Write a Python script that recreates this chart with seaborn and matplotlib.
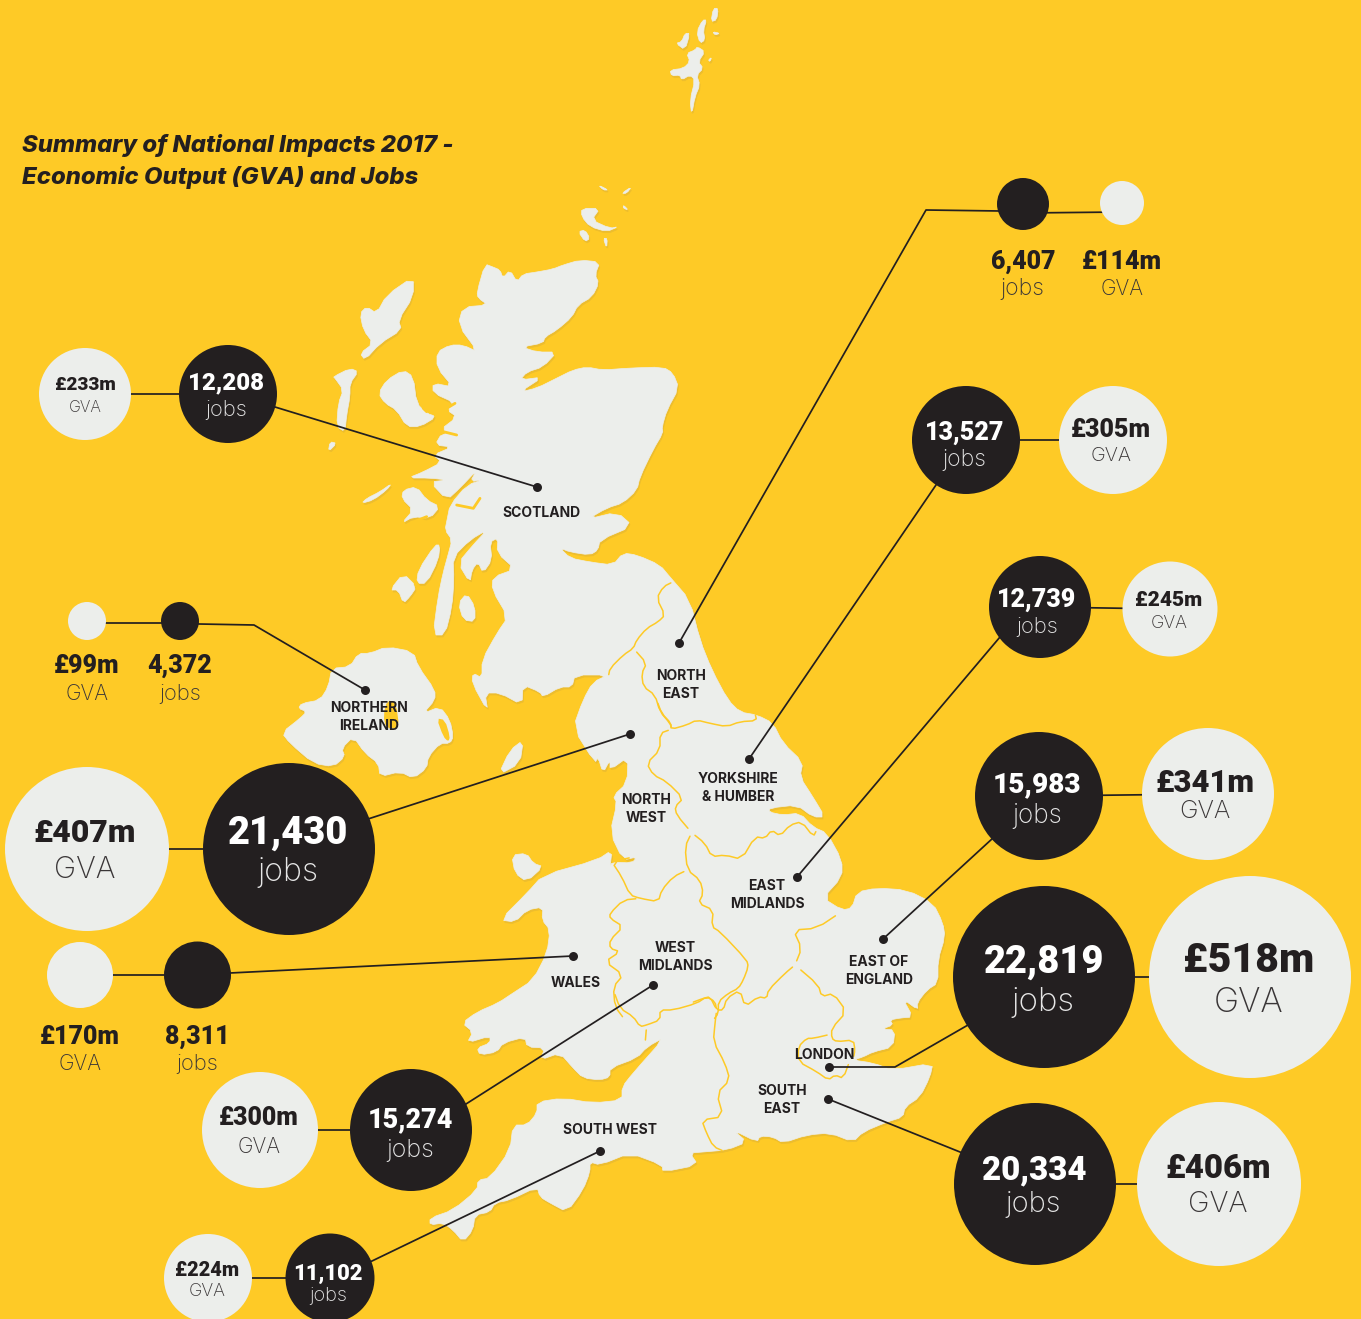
import matplotlib.pyplot as plt
import pandas as pd
import seaborn as sns

sns.set_style("white")
plt.rcParams['font.family'] = ['Inter', 'DejaVu Sans']

YELLOW = '#FECA26'
SHADOW = '#EDBD2E'
LAND = '#ECEEEB'
DARK = '#231F20'

# values
regions = ['Scotland', 'North East', 'Yorkshire & Humber', 'East Midlands', 'East of England',
           'London', 'South East', 'South West', 'West Midlands', 'Wales', 'North West',
           'Northern Ireland']
jobs = [12208, 6407, 13527, 12739, 15983, 22819, 20334, 11102, 15274, 8311, 21430, 4372]
gva = [233, 114, 305, 245, 341, 518, 406, 224, 300, 170, 407, 99]

region_labels = ['SCOTLAND', 'NORTH\nEAST', 'YORKSHIRE\n& HUMBER', 'EAST\nMIDLANDS', 'EAST OF\nENGLAND',
                 'LONDON', 'SOUTH\nEAST', 'SOUTH WEST', 'WEST\nMIDLANDS', 'WALES', 'NORTH\nWEST',
                 'NORTHERN\nIRELAND']

# layout, in pixels of the picture
job_xy = [(228, 394), (1023, 204), (966, 440), (1040, 607), (1039, 796), (1044, 977),
          (1035, 1184), (330, 1278), (411, 1130), (197.5, 975), (289, 849), (180, 621)]
gva_xy = [(85, 394), (1122, 203), (1113, 440), (1170, 609), (1208, 794), (1250, 977),
          (1219, 1184), (208, 1278), (260, 1130), (80, 975), (87, 849), (87, 621)]
job_r = [49, 26, 54, 51, 64, 91, 81, 44.5, 61, 33.5, 86, 19]
gva_r = [46, 22, 54, 47.5, 66, 101, 82, 44, 58, 33, 82, 19]
link_shift = [0, 9, 0, 0, 0, 0, 0, 0, 0, 0, 0, 2]
dot_xy = [(537, 487), (679, 643), (749, 759), (797, 877), (883, 939), (829, 1067),
          (828, 1099), (600, 1151), (653, 985), (573, 956), (630, 734), (365, 690)]
# extra bends of the leader lines between the dot and the jobs bubble
leader_via = [[(275, 407)], [(926, 210), (1000, 211)], [(936, 485)], [(1000, 637)], [(993, 838)],
              [(895, 1067), (968, 1025)], [(960, 1152)], [(372, 1261)], [(466, 1104)], [(230, 973)],
              [(368, 819)], [(254, 625), (199, 624)]]
label_xy = [(541, 513), (681, 685), (738, 788), (767, 895), (879, 971), (824, 1055),
            (782, 1100), (610, 1130), (675, 957), (576, 983), (646, 809), (369, 717)]
# (x, y, font px) of number and unit
job_num = [(226, 383, 24), (1023, 262, 25), (965, 433, 25), (1037, 600, 25), (1037, 785, 28), (1044, 962, 38),
           (1034, 1170, 33), (328, 1274, 22), (410, 1120, 27), (197, 1037, 25), (288, 833, 38), (180, 666, 25)]
job_unit = [(226, 410, 22), (1022, 289, 23), (964, 460, 23), (1037, 627, 22), (1037, 816, 26), (1043, 1003, 33),
            (1033, 1204, 29), (328, 1296, 20), (410, 1151, 25), (197, 1064, 22), (288, 872, 32), (180, 694, 22)]
gva_num = [(85, 385, 19), (1122, 262, 25), (1111, 430, 25), (1169, 601, 21), (1205, 783, 31), (1249, 960, 41),
           (1218, 1169, 33), (207, 1270, 20), (259, 1118, 25), (80, 1037, 25), (85, 833, 32), (87, 666, 25)]
gva_unit = [(85, 408, 16), (1122, 289, 21), (1111, 456, 20), (1169, 624, 18), (1205, 812, 25), (1249, 1003, 34),
            (1218, 1204, 29), (207, 1292, 18), (259, 1147, 21), (80, 1064, 21), (85, 870, 30), (87, 694, 21)]
outside = ['North East', 'Wales', 'Northern Ireland']

# coastline of Great Britain
mainland = [
    (485, 264), (493, 267), (500, 270), (503, 278), (510, 270), (517, 282), (523, 274), (537, 272), (553, 269),
    (563, 265), (580, 260), (600, 262), (595, 275), (599, 283), (592, 297), (578, 305), (572, 317), (557, 330),
    (545, 337), (543, 343), (522, 347), (537, 352), (557, 352), (543, 367), (527, 372), (520, 380), (543, 377),
    (520, 392), (537, 388), (557, 378), (573, 370), (587, 367), (603, 370), (630, 368), (663, 367), (673, 373),
    (679, 388), (667, 410), (662, 427), (663, 433), (653, 450), (640, 477), (637, 490), (623, 503), (607, 508),
    (588, 519), (617, 512), (633, 526), (600, 540), (598, 550), (590, 555), (570, 552), (560, 548), (570, 558),
    (590, 562), (613, 565), (623, 553), (637, 555), (660, 565), (670, 577), (690, 600), (700, 640), (712, 670),
    (728, 700), (740, 712), (757, 715), (773, 723), (783, 743), (803, 762), (800, 777), (813, 797), (825, 817),
    (813, 817), (797, 805), (770, 808), (769, 812), (783, 815), (800, 813), (813, 827), (827, 833), (842, 860),
    (842, 877), (823, 898), (842, 910), (852, 908), (857, 892), (877, 888), (907, 890), (933, 903), (943, 923),
    (945, 937), (938, 960), (938, 983), (927, 990), (917, 1003), (918, 1010), (903, 999), (913, 1017), (900, 1018),
    (890, 1020), (893, 1025), (882, 1029), (895, 1030), (893, 1047), (873, 1052), (863, 1057), (853, 1060),
    (873, 1063), (893, 1070), (933, 1063), (930, 1077), (920, 1097), (905, 1107), (903, 1117), (887, 1122),
    (863, 1132), (853, 1142), (830, 1133), (807, 1135), (783, 1143), (773, 1137), (760, 1136), (757, 1142),
    (733, 1130), (747, 1142), (727, 1150), (703, 1152), (690, 1153), (698, 1165), (663, 1172), (662, 1165),
    (630, 1153), (600, 1165), (590, 1162), (590, 1172), (583, 1190), (567, 1212), (550, 1203), (540, 1197),
    (537, 1187), (510, 1200), (495, 1203), (490, 1212), (475, 1215), (473, 1230), (463, 1242), (453, 1230),
    (443, 1223), (430, 1225), (430, 1218), (453, 1210), (477, 1190), (478, 1180), (490, 1178), (510, 1150),
    (513, 1125), (527, 1125), (537, 1113), (537, 1102), (563, 1098), (593, 1103), (622, 1100), (622, 1087),
    (633, 1073), (665, 1037), (647, 1047), (637, 1058), (610, 1068), (610, 1077), (600, 1080), (583, 1078),
    (573, 1068), (560, 1053), (540, 1060), (545, 1048), (527, 1047), (525, 1037), (503, 1043), (497, 1052),
    (480, 1055), (477, 1048), (490, 1043), (490, 1036), (467, 1043), (473, 1032), (462, 1023), (477, 1012),
    (498, 1003), (513, 993), (533, 980), (547, 953), (550, 930), (542, 920), (543, 907), (527, 910), (515, 922),
    (500, 920), (527, 893), (543, 875), (597, 860), (612, 850), (610, 868), (612, 862), (632, 863), (637, 857),
    (623, 860), (610, 833), (617, 803), (613, 796), (627, 783), (628, 757), (610, 770), (610, 760), (603, 773),
    (598, 757), (595, 763), (573, 728), (583, 700), (593, 682), (608, 675), (575, 675), (572, 687), (560, 687),
    (543, 697), (540, 692), (523, 685), (522, 705), (500, 693), (485, 693), (488, 712), (472, 683), (473, 673),
    (482, 678), (482, 660), (497, 633), (508, 617), (492, 590), (493, 577), (515, 569), (497, 553), (498, 538),
    (490, 542), (492, 560), (483, 573), (478, 562), (472, 570), (470, 583), (458, 563), (473, 545), (487, 530),
    (470, 540), (453, 557), (454, 580), (452, 607), (445, 635), (433, 635), (438, 597), (443, 573), (448, 555),
    (452, 540), (445, 530), (447, 520), (450, 505), (467, 485), (485, 479), (470, 482), (477, 470), (460, 488),
    (447, 500), (430, 482), (447, 480), (430, 478), (408, 478), (423, 472), (442, 462), (433, 455), (452, 447),
    (435, 445), (442, 433), (457, 435), (440, 430), (457, 417), (447, 410), (455, 403), (433, 393), (433, 383),
    (453, 387), (437, 368), (437, 352), (450, 345), (463, 345), (478, 352), (458, 325), (463, 307), (488, 305),
    (478, 298), (477, 292),
]


def zoomed(points, x0, y0):
    return [(x0 + x / 3, y0 + y / 3) for x, y in points]


def rounded(shape, closed=True):
    # one pass of corner cutting, the coast is not that sharp in the original
    out = []
    pairs = list(zip(shape, shape[1:] + shape[:1])) if closed else list(zip(shape, shape[1:]))
    for (x0, y0), (x1, y1) in pairs:
        out.append((0.75 * x0 + 0.25 * x1, 0.75 * y0 + 0.25 * y1))
        out.append((0.25 * x0 + 0.75 * x1, 0.25 * y0 + 0.75 * y1))
    return out


islands = [
    zoomed(p, 270, 170) for p in [
        [(270, 430), (290, 410), (320, 430), (350, 375), (430, 320), (430, 380), (385, 450), (395, 480), (330, 520),
         (285, 570), (270, 550), (310, 520), (280, 480)],
        [(190, 620), (240, 595), (265, 605), (240, 640), (240, 680), (230, 735), (225, 785), (200, 770), (205, 700),
         (220, 660), (195, 625)],
        [(175, 845), (180, 815), (200, 820)],
        [(275, 1000), (290, 985), (330, 965), (365, 940), (350, 960), (310, 990)],
        [(325, 670), (350, 630), (400, 600), (430, 620), (440, 700), (470, 730), (500, 740), (450, 770), (410, 770),
         (380, 720), (345, 700)],
        [(400, 960), (440, 950), (470, 990), (510, 1010), (480, 1045), (430, 1040), (395, 1060), (430, 1020),
         (395, 985)],
        [(935, 115), (990, 115), (965, 150), (1020, 175), (1045, 170), (1010, 185), (960, 170), (935, 140)],
        [(925, 185), (945, 180), (960, 205), (945, 215)],
        [(1000, 205), (1012, 205), (1010, 235)],
        [(985, 45), (1015, 60), (1000, 60)],
        [(1060, 105), (1075, 120), (1060, 115)],
        [(1055, 70), (1085, 50), (1070, 70)],
    ]
] + [
    zoomed(p, 270, 540) for p in [
        # Jura, Islay, Arran, Isle of Man, Anglesey
        [(495, 15), (510, 15), (505, 60), (470, 130), (440, 130), (445, 90)],
        [(360, 150), (400, 100), (440, 140), (420, 170), (400, 190), (385, 150)],
        [(565, 190), (590, 160), (615, 200), (615, 245), (580, 240)],
        [(685, 705), (720, 630), (760, 600), (750, 670)],
        [(725, 945), (770, 940), (790, 970), (820, 980), (770, 1025), (735, 1000)],
        # Northern Ireland
        [(35, 578), (90, 535), (110, 515), (85, 505), (95, 490), (150, 480), (175, 440), (185, 385), (240, 380),
         (265, 340), (300, 340), (350, 320), (430, 335), (445, 380), (495, 450), (495, 480), (460, 520), (510, 500),
         (540, 540), (550, 590), (540, 610), (510, 610), (475, 650), (470, 685), (430, 715), (390, 695), (330, 710),
         (325, 670), (285, 640), (250, 590), (215, 625), (225, 650), (190, 680), (130, 670), (60, 610)],
    ]
] + [
    zoomed(p, 640, 0) for p in [
        [(155, 345), (150, 300), (165, 240), (150, 225), (125, 240), (120, 225), (95, 228), (90, 210), (130, 205),
         (150, 185), (140, 160), (165, 150), (172, 140), (195, 155), (175, 185), (190, 205), (170, 225), (180, 255),
         (165, 290)],
        [(170, 95), (188, 60), (200, 60), (190, 90), (195, 120), (180, 130)],
        [(213, 65), (220, 25), (235, 25), (230, 60)],
        [(108, 130), (125, 125), (135, 100), (150, 100), (135, 150)],
        [(218, 95), (240, 100), (225, 105)],
        [(205, 180), (215, 172), (210, 185)],
    ]
]

# water inside the land
lakes = [
    zoomed([(340, 525), (352, 480), (378, 488), (388, 565), (348, 565)], 270, 540),
    zoomed([(500, 535), (525, 540), (540, 590), (535, 605), (520, 590)], 270, 540),
]
lochs = [
    zoomed([(560, 1005), (610, 1015), (630, 985)], 270, 170),
    zoomed([(420, 1060), (470, 1040)], 270, 170),
    zoomed([(455, 675), (460, 715), (470, 725)], 270, 170),
    zoomed([(495, 735), (530, 715), (555, 700)], 270, 170),
    zoomed([(490, 780), (520, 785), (560, 795)], 270, 170),
]

# yellow region borders
borders = [
    zoomed(p, 270, 540) for p in [
        [(1210, 125), (1180, 140), (1160, 175), (1185, 225), (1165, 245), (1130, 265), (1100, 300), (1090, 325),
         (1060, 345), (1020, 385), (1015, 410)],
        [(1090, 325), (1130, 370), (1115, 400), (1120, 440), (1155, 465), (1170, 515), (1200, 550), (1205, 565)],
    ]
] + [
    zoomed(p, 600, 700) for p in [
        [(170, 0), (185, 40), (213, 70), (213, 88), (260, 75), (290, 60), (330, 70), (380, 80), (420, 65), (470, 62),
         (465, 40)],
        [(213, 88), (180, 100), (180, 150), (140, 190), (160, 225), (200, 245), (250, 295), (225, 320), (230, 345),
         (275, 398)],
        [(275, 398), (315, 430), (335, 470), (375, 465), (425, 478), (465, 410), (495, 415), (515, 390), (540, 408),
         (570, 375), (605, 365), (640, 410), (650, 390)],
        [(275, 398), (255, 440), (262, 510), (300, 540), (310, 580), (295, 610), (340, 630), (335, 680), (360, 695),
         (440, 780), (445, 800), (430, 840), (415, 865), (385, 880), (355, 905), (355, 940), (340, 960)],
        [(262, 510), (220, 530), (185, 570), (175, 605), (120, 595), (90, 585), (65, 530), (35, 485), (105, 470)],
        [(120, 595), (70, 600), (30, 640), (30, 655), (70, 680), (30, 720), (30, 745), (60, 755), (15, 785), (70, 825),
         (40, 860), (45, 920), (75, 960)],
        [(585, 795), (605, 745), (580, 690), (650, 685), (725, 635)],
    ]
] + [
    zoomed(p, 420, 850) for p in [
        [(580, 420), (600, 475), (640, 500), (660, 530), (680, 525), (720, 510), (720, 480), (760, 480), (830, 460),
         (860, 440), (885, 455), (890, 480)],
        [(680, 525), (675, 585)],
        [(890, 480), (885, 520), (880, 575), (915, 640), (930, 690), (890, 730), (910, 800), (845, 810), (860, 850),
         (880, 890), (915, 905)],
    ]
] + [
    zoomed(p, 690, 960) for p in [
        [(315, 15), (285, 40), (235, 90), (230, 115), (205, 110), (165, 140), (150, 90), (110, 115), (100, 150),
         (80, 150), (60, 110), (40, 115), (0, 130)],
        [(315, 15), (385, 75), (395, 110), (430, 100), (470, 155), (425, 205), (425, 235), (440, 245), (490, 240),
         (495, 270), (490, 295)],
        [(425, 222), (370, 235), (350, 235), (325, 260), (325, 305), (380, 335), (415, 360), (435, 345), (460, 355),
         (480, 300)],
    ]
]

bubbles = pd.DataFrame({
    'value': jobs + gva,
    'x': [p[0] for p in job_xy + gva_xy],
    'y': [p[1] for p in job_xy + gva_xy],
    'kind': ['jobs'] * len(jobs) + ['GVA'] * len(gva),
})
bubble_sizes = {v: (2 * r * 0.72) ** 2 for v, r in zip(jobs + gva, job_r + gva_r)}
dots = pd.DataFrame({'region': regions, 'x': [p[0] for p in dot_xy], 'y': [p[1] for p in dot_xy]})

fig = plt.figure(figsize=(13.61, 13.19), dpi=100, facecolor=YELLOW)
ax = fig.add_axes([0, 0, 1, 1])
ax.set_xlim(0, 1361)
ax.set_ylim(1319, 0)
ax.axis('off')

shapes = [rounded(s) for s in [mainland] + islands]
for shape in shapes:
    ax.fill([p[0] + 1 for p in shape], [p[1] + 2 for p in shape], color=SHADOW, lw=0.5, zorder=1)
for shape in shapes:
    ax.fill([p[0] for p in shape], [p[1] for p in shape], color=LAND, lw=0.5, joinstyle='round', zorder=1.2)
for shape in lakes:
    shape = rounded(shape)
    ax.fill([p[0] for p in shape], [p[1] for p in shape], color=YELLOW, lw=0, zorder=1.3)
for line in lochs:
    ax.plot([p[0] for p in line], [p[1] for p in line], color=YELLOW, lw=2, zorder=1.3)
for line in borders:
    line = rounded(line, closed=False)
    ax.plot([p[0] for p in line], [p[1] for p in line], color=YELLOW, lw=1.1, solid_joinstyle='round', zorder=1.4)

# leaders and the short link to the GVA bubble
for i in range(len(regions)):
    path = [dot_xy[i]] + leader_via[i] + [job_xy[i]]
    ax.plot([p[0] for p in path], [p[1] for p in path], color=DARK, lw=1.25, zorder=2)
    ax.plot([job_xy[i][0], gva_xy[i][0]], [job_xy[i][1] + link_shift[i], gva_xy[i][1] + link_shift[i]],
            color=DARK, lw=1.25, zorder=2)

sns.scatterplot(data=bubbles, x='x', y='y', size='value', sizes=bubble_sizes, hue='kind',
                palette={'jobs': DARK, 'GVA': LAND}, linewidth=0, alpha=1, legend=False, ax=ax, zorder=3)
sns.scatterplot(data=dots, x='x', y='y', color=DARK, s=42, linewidth=0, legend=False, ax=ax, zorder=4)

for i, region in enumerate(regions):
    out = region in outside
    for spec, unit_spec, text, unit, kind in [
        (job_num[i], job_unit[i], f'{jobs[i]:,}', 'jobs', 'jobs'),
        (gva_num[i], gva_unit[i], f'£{gva[i]}m', 'GVA', 'GVA'),
    ]:
        num_color = 'white' if kind == 'jobs' and not out else DARK
        unit_color = '#E6E6E6' if kind == 'jobs' and not out else '#3A3637'
        ax.text(spec[0], spec[1], text, fontsize=spec[2] * 0.72, fontweight='black', family='Roboto', color=num_color,
                ha='center', va='center', zorder=5)
        ax.text(unit_spec[0], unit_spec[1], unit, fontsize=unit_spec[2] * 0.72, fontweight='light', color=unit_color,
                ha='center', va='center', zorder=5)
    ax.text(label_xy[i][0], label_xy[i][1], region_labels[i], fontsize=10, fontweight='bold', color=DARK,
            ha='center', va='center', linespacing=1.3, zorder=5)

ax.text(22, 145.5, 'Summary of National Impacts 2017 -', fontsize=17.2, fontweight='heavy', fontstyle='italic',
        color=DARK, va='center', zorder=5)
ax.text(22, 177.5, 'Economic Output (GVA) and Jobs', fontsize=17.2, fontweight='heavy', fontstyle='italic',
        color=DARK, va='center', zorder=5)

fig.savefig('out.png', dpi=100, facecolor=YELLOW)
